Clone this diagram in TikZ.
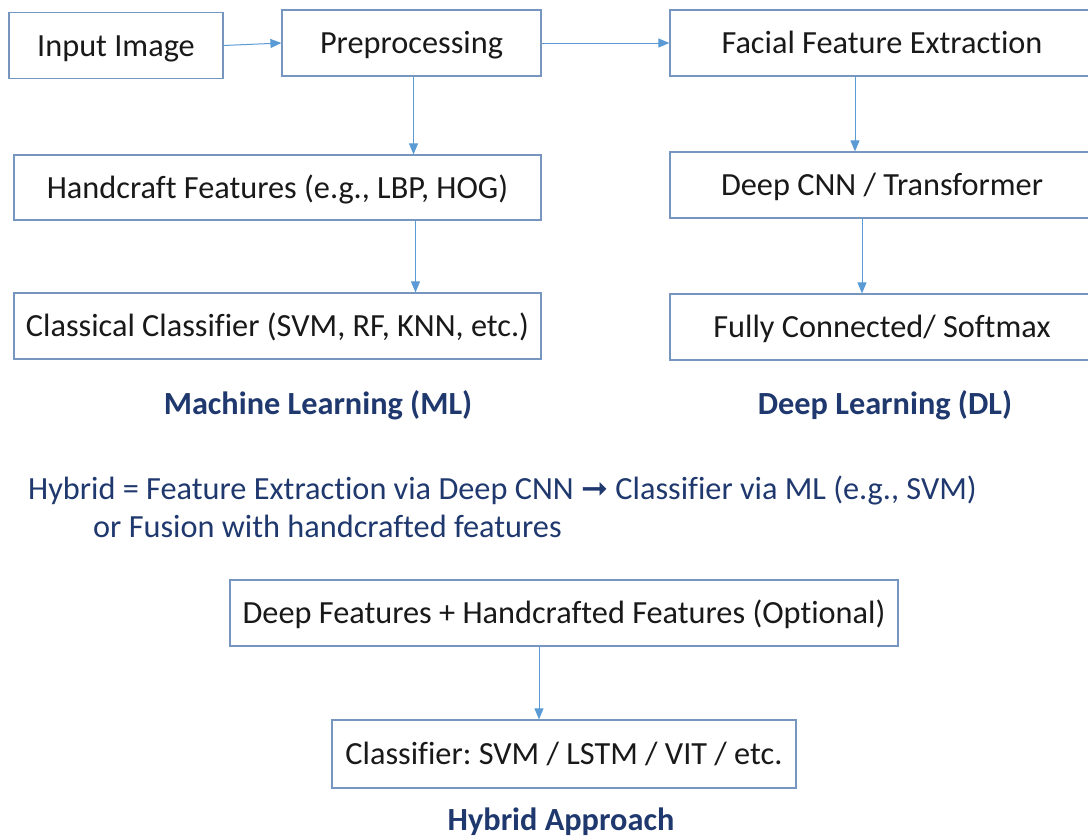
\documentclass[tikz,border=0pt]{standalone}
\usepackage{fontspec}
\setmainfont{Carlito}[Ligatures=NoCommon]
\newfontfamily\arrowfont{DejaVu Sans}
\usetikzlibrary{arrows.meta}
\frenchspacing
\definecolor{boxline}{RGB}{118,150,192}
\definecolor{arrowblue}{RGB}{91,155,213}
\definecolor{labelnavy}{RGB}{31,56,110}
\definecolor{textgray}{RGB}{25,25,25}
\tikzset{
  stagebox/.style={draw=boxline,line width=1.2pt,fill=white,text=textgray,
    inner sep=0pt,text height=23pt,text depth=2pt,
    font=\fontsize{32.3}{38}\selectfont},
  flowarrow/.style={draw=arrowblue,line width=1pt,-{Triangle[length=11pt,width=9pt]}},
  grouplabel/.style={text=labelnavy,font=\fontsize{32.3}{38}\selectfont\bfseries},
  hybridtext/.style={text=labelnavy,anchor=west,inner sep=0pt,
    font=\fontsize{32.3}{38}\selectfont}
}
\begin{document}
\begin{tikzpicture}[x=1pt,y=-1pt,line cap=butt,line join=miter]
        \useasboundingbox (0,0) rectangle (1088,838);
        \clip (0,0) rectangle (1088,838);

        %----------------------------------------------------------
        % Etapa comun
        \node[stagebox,minimum width=214,minimum height=66] (inimg) at (116,45.5) {Input Image};
        \node[stagebox,minimum width=259,minimum height=66] (prep) at (411.5,43) {Preprocessing};

        %----------------------------------------------------------
        % Rama de aprendizaje automatico
        \node[stagebox,minimum width=527,minimum height=65] (hand) at (277.5,187.5)
            {Handcraft Features (e.g., LBP, HOG)};
        \node[stagebox,minimum width=527,minimum height=66] (clas) at (277.5,326)
            {Classical Classifier (SVM, RF, KNN, etc.)};
        \node[grouplabel] (mllabel) at (318,405) {Machine Learning (ML)};

        %----------------------------------------------------------
        % Rama de aprendizaje profundo
        \node[stagebox,minimum width=424,minimum height=66] (face) at (882,43)
            {Facial Feature Extraction};
        \node[stagebox,minimum width=424,minimum height=66] (cnn) at (882,185)
            {Deep CNN / Transformer};
        \node[stagebox,minimum width=424,minimum height=66] (fc) at (882,327)
            {Fully Connected/ Softmax};
        \node[grouplabel] (dllabel) at (885,405) {Deep Learning (DL)};

        %----------------------------------------------------------
        % Enfoque hibrido
        \node[hybridtext] (hyline1) at (28,490)
            {Hybrid = Feature Extraction via Deep CNN {\arrowfont ➞} Classifier via ML (e.g., SVM)};
        \node[hybridtext] (hyline2) at (93,526) {or Fusion with handcrafted features};

        \node[stagebox,minimum width=668,minimum height=66] (deep) at (564,613)
            {Deep Features + Handcrafted Features (Optional)};
        \node[stagebox,minimum width=464,minimum height=68] (hyclf) at (564,754)
            {Classifier: SVM / LSTM / VIT / etc.};
        \node[grouplabel] (hylabel) at (561,822) {Hybrid Approach};

        % Conectores
        \draw[flowarrow] (inimg.east) -- (prep.west);
        \draw[flowarrow] (prep.east) -- (face.west);
        \draw[flowarrow] ([xshift=2]prep.south) -- ([xshift=2]prep.south |- hand.north);
        \draw[flowarrow] ([xshift=138]hand.south) -- ([xshift=138]clas.north);
        \draw[flowarrow] ([xshift=-27]face.south) -- ([xshift=-27]cnn.north);
        \draw[flowarrow] ([xshift=-20]cnn.south) -- ([xshift=-20]fc.north);
        \draw[flowarrow] ([xshift=-25]deep.south) -- ([xshift=-25]hyclf.north);
    \end{tikzpicture}
\end{document}
